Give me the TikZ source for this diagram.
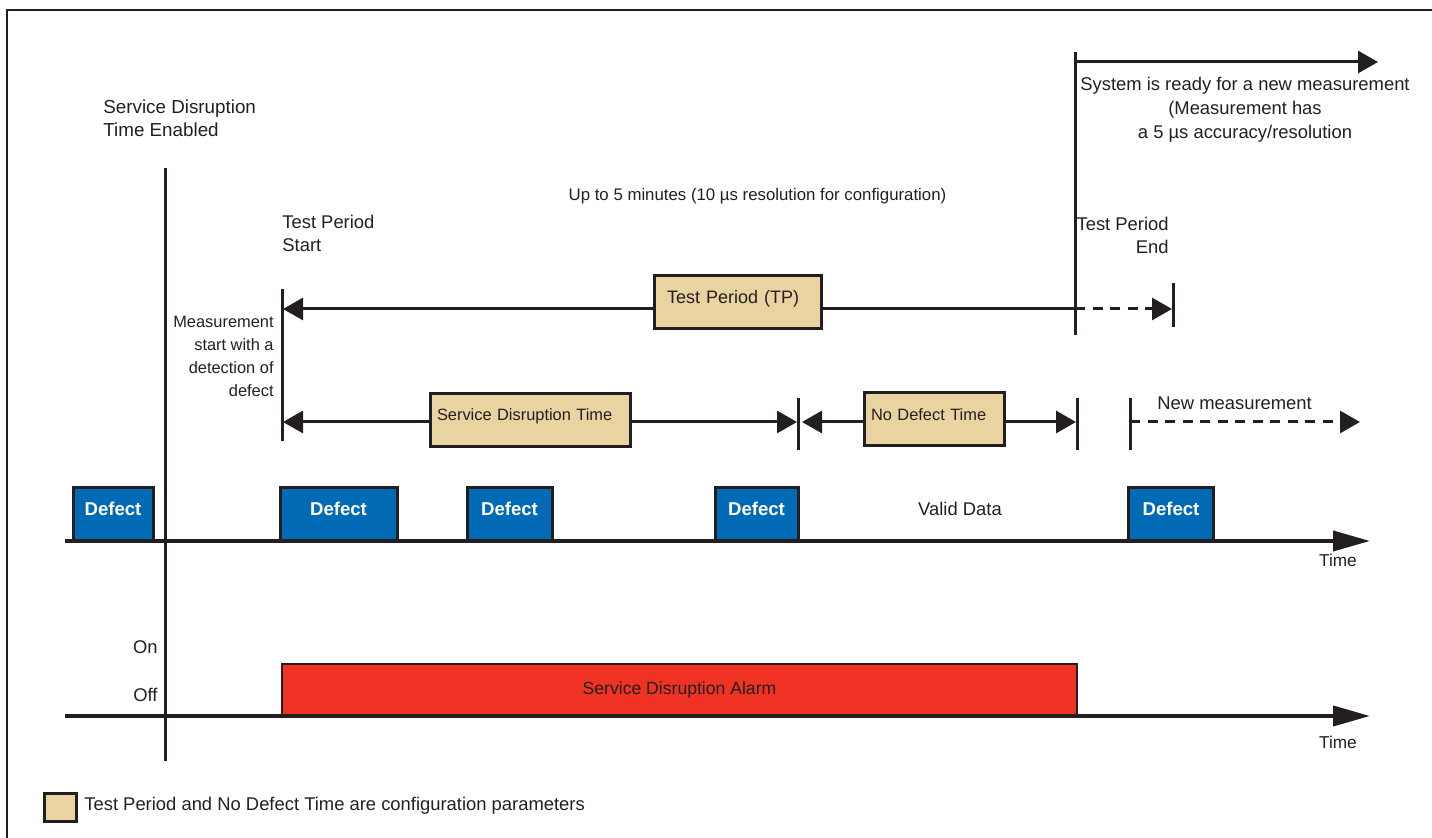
\documentclass[tikz,border=0pt]{standalone}
\usepackage{fontspec}
\setmainfont{Liberation Sans}
\usetikzlibrary{arrows.meta}
\definecolor{ink}{RGB}{35,31,32}
\definecolor{defectblue}{RGB}{0,106,180}
\definecolor{paramtan}{RGB}{233,211,160}
\definecolor{alarmred}{RGB}{239,50,36}
\begin{document}
\begin{tikzpicture}[x=0.5pt,y=-0.5pt,
  every node/.style={text=ink,font=\fontsize{9.2}{11.5}\selectfont,inner sep=0pt},
  defect/.style={draw=ink,fill=defectblue,line width=1.5pt,minimum height=26.5pt,text=white,
    font=\fontsize{9.3}{11}\selectfont\bfseries,text height=6.7pt,text depth=5.5pt},
  param/.style={draw=ink,fill=paramtan,line width=1.5pt,minimum height=26.5pt,inner xsep=3.5pt,
    align=left,font=\fontsize{8.2}{10}\selectfont,text height=6.6pt,text depth=5.7pt},
  dim/.style={draw=ink,line width=1.5pt,-{Triangle[length=10pt,width=11pt]}},
  dashdim/.style={dim,dash pattern=on 5pt off 3.75pt},
  axis/.style={draw=ink,line width=2pt,-{Triangle[length=18.5pt,width=10pt]}},
  tick/.style={draw=ink,line width=1.5pt}]
\useasboundingbox (0,0) rectangle (1432,838);
% frame
\draw[ink,line width=0.9pt] (7,838) -- (7,10) -- (1432,10);

% key points
\coordinate (enable top) at (165,168);
\coordinate (enable bot) at (165,761);
\coordinate (start top) at (282,289);
\coordinate (start bot) at (282,441);
\coordinate (end top) at (1075,52);
\coordinate (end bot) at (1075,335);
\coordinate (ready from) at (1075,62);
\coordinate (ready to) at (1378,62);
\coordinate (tp start) at (283,309);
\coordinate (tp end) at (1075,309);
\coordinate (tp over) at (1172,309);
\coordinate (tpx top) at (1173,283);
\coordinate (tpx bot) at (1173,327);
\coordinate (sd start) at (283,422);
\coordinate (sd end) at (797,422);
\coordinate (nd start) at (802,422);
\coordinate (nd end) at (1076,422);
\coordinate (sd top) at (798,398);
\coordinate (sd bot) at (798,450);
\coordinate (nd top) at (1077,398);
\coordinate (nd bot) at (1077,450);
\coordinate (nm top) at (1130,398);
\coordinate (nm bot) at (1130,450);
\coordinate (nm from) at (1130,422);
\coordinate (nm to) at (1360,422);
\coordinate (defect0) at (65,541);
\coordinate (defect1) at (1370,541);
\coordinate (alarm0) at (65,716);
\coordinate (alarm1) at (1370,716);

% texts
\node[anchor=west,align=left,font=\fontsize{9.4}{11.5}\selectfont] (enabled) at (103,118.5) {Service Disruption\\Time Enabled};
\node[anchor=west,align=left] (tpstart) at (282,233.5) {Test Period\\Start};
\node[font=\fontsize{8.4}{10}\selectfont] (upto) at (757.5,196) {Up to 5 minutes (10 µs resolution for configuration)};
\node[anchor=east,align=right] (tpend) at (1169,235.5) {Test Period\\End};
\node[align=center,font=\fontsize{9.2}{12}\selectfont] (ready) at (1245,110) {System is ready for a new measurement\\(Measurement has\\a 5 µs accuracy/resolution};
\node[anchor=east,align=right,font=\fontsize{8.2}{11.5}\selectfont] (detect) at (274,356.5) {Measurement\\start with a\\detection of\\defect};
\node[anchor=west] (newm) at (1157,403) {New measurement};
\node (valid) at (960,509) {Valid Data};
\node[anchor=east] (on) at (158,647) {On};
\node[anchor=east] (off) at (158,695) {Off};
\node[font=\fontsize{8.6}{10}\selectfont] (time1) at (1338,560) {Time};
\node[font=\fontsize{8.6}{10}\selectfont] (time2) at (1338,742) {Time};

% parameter boxes
\node[param,inner xsep=6.5pt,text width=70.5pt,font=\fontsize{9}{11}\selectfont] (tp) at (737.5,302.5) {Test Period (TP)};
\node[param,text width=93pt] (sdt) at (530,420) {Service Disruption Time};
\node[param,text width=63pt] (ndt) at (934,419.5) {No Defect Time};

% defects
\node[defect,minimum width=40pt] (def1) at (113,514.5) {Defect};
\node[defect,minimum width=58.5pt] (def2) at (338.5,514.5) {Defect};
\node[defect,minimum width=42.5pt] (def3) at (509.5,514.5) {Defect};
\node[defect,minimum width=41.5pt] (def4) at (756.5,514.5) {Defect};
\node[defect,minimum width=42.5pt] (def5) at (1171,514.5) {Defect};

% alarm
\node[draw=ink,fill=alarmred,line width=1pt,minimum width=397.5pt,minimum height=26pt,
  font=\fontsize{8.8}{10}\selectfont] (alarm) at (679.5,690) {Service Disruption Alarm};

% legend
\node[draw=ink,fill=paramtan,line width=1.5pt,minimum width=16pt,minimum height=14pt] (key) at (60.5,807.5) {};
\node[anchor=west] (keytext) at (84,806) {Test Period and No Defect Time are configuration parameters};

% lines
\draw[tick] (enable top) -- (enable bot);
\draw[tick] (start top) -- (start bot);
\draw[tick] (end top) -- (end bot);
\draw[dim] (ready from) -- (ready to);
\draw[dim] (tp.west |- tp start) -- (tp start);
\draw[tick] (tp.east |- tp end) -- (tp end);
\draw[dashdim] (tp end) -- (tp over);
\draw[tick] (tpx top) -- (tpx bot);
\draw[dim] (sdt.west |- sd start) -- (sd start);
\draw[dim] (sdt.east |- sd end) -- (sd end);
\draw[tick] (sd top) -- (sd bot);
\draw[dim] (ndt.west |- nd start) -- (nd start);
\draw[dim] (ndt.east |- nd end) -- (nd end);
\draw[tick] (nd top) -- (nd bot);
\draw[tick] (nm top) -- (nm bot);
\draw[dashdim] (nm from) -- (nm to);
\draw[axis] (defect0) -- (defect1);
\draw[axis] (alarm0) -- (alarm1);
\end{tikzpicture}
\end{document}
